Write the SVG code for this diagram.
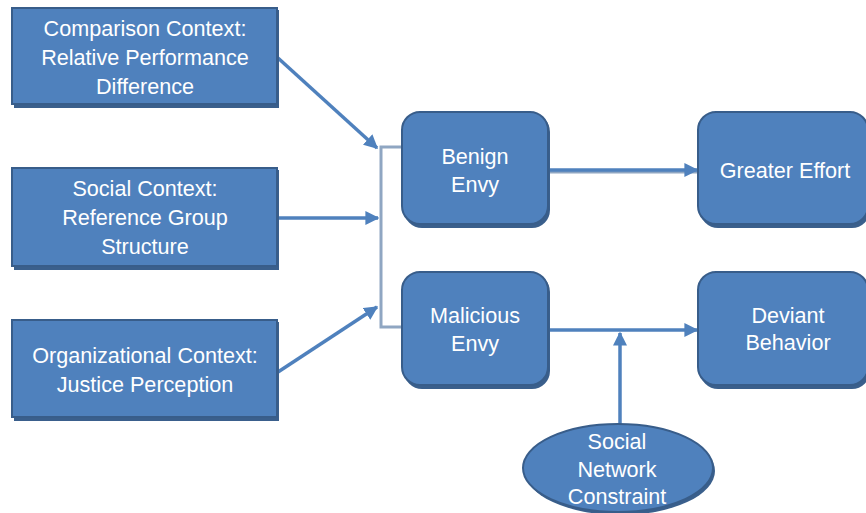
<svg xmlns="http://www.w3.org/2000/svg" width="866" height="513" viewBox="0 0 866 513">
<defs>
<style>
.n{fill:#4f81bd;stroke:#385d8a;stroke-width:2}
.sh{fill:#3a5f8c}
.t{font-family:"Liberation Sans",Arial,sans-serif;font-size:21.6px;fill:#ffffff;text-anchor:middle}
.c{fill:none;stroke:#4f81bd;stroke-width:3.5}
.g{fill:none;stroke:#8fa6c2;stroke-width:3}
</style>
<marker id="a" viewBox="0 0 10 10" refX="9" refY="5" markerWidth="4" markerHeight="4" orient="auto"><path d="M0,0 L10,5 L0,10 z" fill="#4f81bd"/></marker>
<marker id="o" viewBox="0 0 10 10" refX="9" refY="5" markerWidth="4" markerHeight="4" orient="auto"><path d="M1,1 L9,5 L1,9" fill="none" stroke="#4f81bd" stroke-width="2"/></marker>
</defs>
<rect width="866" height="513" fill="#ffffff"/>
<g id="connectors">
<path class="g" d="M447,147 L381,147 L381,327 L403,327"/>
<path d="M426,147 L426,160" fill="none" stroke="#7f9cc0" stroke-width="1.5" marker-end="url(#o)"/>
<line class="c" x1="278" y1="58" x2="377" y2="148" marker-end="url(#a)"/>
<line class="c" x1="278" y1="218" x2="378" y2="218" marker-end="url(#a)"/>
<line class="c" x1="278" y1="372" x2="377" y2="307" marker-end="url(#a)"/>
<line class="g" x1="549" y1="172" x2="697" y2="172"/>
<line class="c" x1="549" y1="170" x2="697" y2="170" marker-end="url(#a)"/>
<line class="c" x1="549" y1="330" x2="697" y2="330" marker-end="url(#a)"/>
<line class="c" x1="620" y1="425" x2="620" y2="333" marker-end="url(#a)"/>
</g>
<g id="n1"><rect class="sh" x="14" y="10" width="265" height="98"/><rect class="n" x="12" y="8" width="265" height="96"/>
<text class="t" x="145" y="36">Comparison Context:</text><text class="t" x="145" y="65">Relative Performance</text><text class="t" x="145" y="94">Difference</text></g>
<g id="n2"><rect class="sh" x="14" y="170" width="265" height="100"/><rect class="n" x="12" y="168" width="265" height="98"/>
<text class="t" x="145" y="196">Social Context:</text><text class="t" x="145" y="225">Reference Group</text><text class="t" x="145" y="254">Structure</text></g>
<g id="n3"><rect class="sh" x="14" y="322" width="265" height="99"/><rect class="n" x="12" y="320" width="265" height="97"/>
<text class="t" x="145" y="363">Organizational Context:</text><text class="t" x="145" y="392">Justice Perception</text></g>
<g id="n4"><rect class="sh" x="404" y="114" width="146" height="114" rx="18"/><rect class="n" x="402" y="112" width="146" height="112" rx="18"/>
<text class="t" x="475" y="164">Benign</text><text class="t" x="475" y="192">Envy</text></g>
<g id="n5"><rect class="sh" x="700" y="114" width="170" height="114" rx="18"/><rect class="n" x="698" y="112" width="170" height="112" rx="18"/>
<text class="t" x="785" y="178">Greater Effort</text></g>
<g id="n6"><rect class="sh" x="404" y="274" width="146" height="115" rx="18"/><rect class="n" x="402" y="272" width="146" height="113" rx="18"/>
<text class="t" x="475" y="323">Malicious</text><text class="t" x="475" y="351">Envy</text></g>
<g id="n7"><rect class="sh" x="700" y="274" width="170" height="115" rx="18"/><rect class="n" x="698" y="272" width="170" height="113" rx="18"/>
<text class="t" x="788" y="323">Deviant</text><text class="t" x="788" y="350">Behavior</text></g>
<g id="n8"><ellipse class="sh" cx="620" cy="471" rx="95" ry="44"/><ellipse class="n" cx="618" cy="468" rx="95" ry="44"/>
<text class="t" x="617" y="449">Social</text><text class="t" x="617" y="477">Network</text><text class="t" x="617" y="504">Constraint</text></g>
</svg>
